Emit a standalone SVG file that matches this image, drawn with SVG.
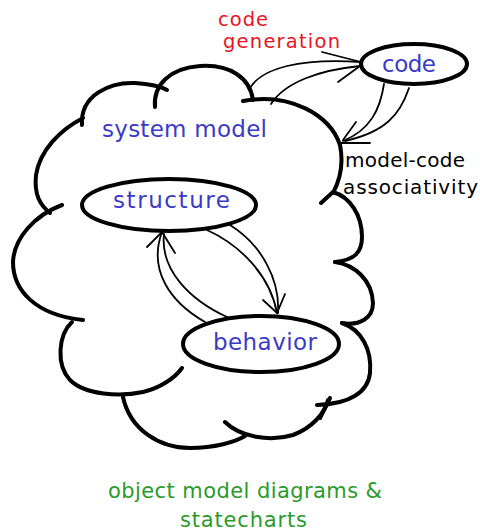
<svg xmlns="http://www.w3.org/2000/svg" width="480" height="531" viewBox="0 0 480 531">
<style>
.cloud{fill:none;stroke:#000;stroke-width:4;stroke-linecap:round;stroke-linejoin:round}
.node{fill:#fff;stroke:#000;stroke-width:4}
.conn{fill:none;stroke:#000;stroke-width:1.8;stroke-linecap:round}
text{font-family:"DejaVu Sans","Liberation Sans",sans-serif;font-size:23px}
.blue{fill:#3a3ac8}
.red{fill:#e8141e;font-size:19.5px}
.green{fill:#2a9a2a;font-size:21px}
.blk{fill:#000;font-size:20px}
</style>
<rect width="480" height="531" fill="#fff"/>
<g id="cloud">
<path class="cloud" d="M82,125 C80,95 110,82 135,83 C150,84 160,86 167,90"/>
<path class="cloud" d="M155,107 C153,85 170,68 200,66 C230,64 250,78 253,100"/>
<path class="cloud" d="M243,101 C290,92 330,115 340,145 C344,165 340,180 333,193"/>
<path class="cloud" d="M321,203 L333,192 C350,197 362,215 362,237 C362,252 355,260 335,262"/>
<path class="cloud" d="M335,262 C355,265 372,280 373,303 C373,318 360,326 342,323"/>
<path class="cloud" d="M342,323 C362,330 372,350 370,373 C368,392 350,404 317,405"/>
<path class="cloud" d="M330,398 L320,418"/>
<path class="cloud" d="M225,422 C240,437 270,442 293,435 C312,428 325,413 328,400"/>
<path class="cloud" d="M123,397 C130,430 160,448 190,448 C215,448 235,442 245,436"/>
<path class="cloud" d="M72,322 C58,335 56,365 70,380 C85,395 120,397 143,392 C160,388 175,378 182,368"/>
<path class="cloud" d="M62,205 C35,215 14,238 13,262 C13,290 35,315 83,320"/>
<path class="cloud" d="M83,118 C60,130 40,150 36,175 C34,195 40,205 50,213"/>
<text class="blue" x="102" y="137" textLength="165">system model</text>
</g>
<g id="connectors">
<path class="conn" d="M250,88 C262,68 300,58 361,62"/>
<path class="conn" d="M271,104 C285,82 320,70 360,66"/>
<path class="conn" d="M322,52 L361,62 M338,82 L360,66"/>
<path class="conn" d="M384,84 C380,110 370,130 343,141"/>
<path class="conn" d="M409,88 C400,115 385,132 345,141"/>
<path class="conn" d="M356,122 L343,140"/>
<path class="conn" d="M340,143 L370,143"/>
<path class="conn" d="M205,322 C170,302 148,270 162,232"/>
<path class="conn" d="M227,317 C190,300 160,270 164,234"/>
<path class="conn" d="M147,247 L162,232 L175,253"/>
<path class="conn" d="M207,230 C240,245 270,275 277,313"/>
<path class="conn" d="M230,225 C262,245 280,280 278,313"/>
<path class="conn" d="M263,300 L277,313 L285,294"/>
<text class="red" x="218" y="26" textLength="50">code</text>
<text class="red" x="223" y="48" textLength="117">generation</text>
<text class="blk" x="345" y="167" textLength="120">model-code</text>
<text class="blk" x="343" y="194" textLength="135">associativity</text>
</g>
<g id="code">
<ellipse class="node" cx="414" cy="64" rx="53" ry="20"/>
<text class="blue" x="382" y="72" textLength="54">code</text>
</g>
<g id="structure">
<ellipse class="node" cx="169" cy="205" rx="87" ry="26"/>
<text class="blue" x="113" y="208" textLength="117">structure</text>
</g>
<g id="behavior">
<ellipse class="node" cx="261" cy="344" rx="78" ry="28"/>
<text class="blue" x="213" y="350" textLength="104">behavior</text>
</g>
<g id="caption">
<text class="green" x="108" y="498" textLength="274">object model diagrams &amp;</text>
<text class="green" x="180" y="527" textLength="127">statecharts</text>
</g>
</svg>
